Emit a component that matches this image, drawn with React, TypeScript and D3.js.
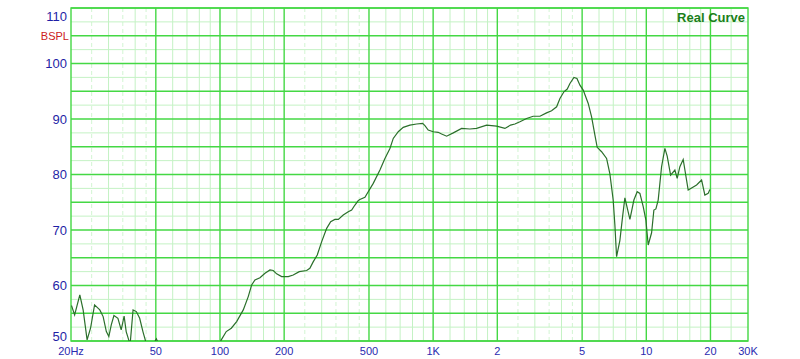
import React from 'react';
import * as d3 from 'd3';

const freqs = [
  20.1, 20.8, 22.0, 22.8, 23.8, 24.7, 25.8, 27.3, 28.3, 29.3, 30.1, 30.9, 31.8, 33.2, 34.4, 35.5, 36.3, 37.3, 37.9,
  39.1, 40.5, 42.0, 43.5, 44.6, 46.0, 48.5, 50.3, 51.7, 54, 70, 90, 98,
  101.4, 107, 113, 119.7, 128.6, 135.7, 140.8, 145.9, 154, 162.6, 171.6, 177.8, 184.4, 194.6, 209, 220.6, 235.4, 255, 264,
  274, 286, 300, 316.6, 330.6, 346, 359, 378.6, 399.7, 414.6, 429.7, 445, 453, 478.6, 496, 523.6, 562.8, 594, 627, 650,
  686, 724, 778, 836.6, 892.6, 915, 948, 1001, 1056, 1096, 1157, 1243, 1360, 1487, 1599, 1782, 1985, 2171, 2308, 2418,
  2553, 2744, 2946, 3169, 3406, 3595, 3796, 3934, 4108, 4257, 4383, 4577, 4728, 4883, 5058, 5340, 5538, 5740, 5884,
  6170, 6512, 6748, 6993, 7122, 7254, 7516, 7740, 7935, 8377, 8746, 9064, 9333, 9672, 9956, 10207, 10588, 10854, 11092,
  11370, 11794, 12224, 12532, 13002, 13616, 13960, 14374, 14896, 15722, 17216, 18172, 18828, 19510, 19872,
];
const spl = [
  56.4, 54.7, 58.3, 55.6, 50.2, 52.3, 56.5, 55.6, 54.4, 51.7, 50.8, 52.9, 54.6, 54.1, 52.0, 54.5, 51.7, 50.2, 49.5,
  55.6, 55.3, 54.1, 51.7, 50.2, 47.5, 49.3, 50.4, 49.3, 47, 45, 46.5, 49,
  50.2, 51.7, 52.3, 53.5, 55.6, 58.0, 60.1, 61.0, 61.4, 62.2, 62.8, 62.7, 62.1, 61.6, 61.6, 61.9, 62.5, 62.7, 63.1,
  64.3, 65.5, 67.9, 70.3, 71.5, 71.9, 71.9, 72.7, 73.3, 73.6, 74.5, 75.3, 75.5, 75.9, 76.9, 78.4, 80.8, 82.9, 84.7, 86.5,
  87.7, 88.5, 88.9, 89.1, 89.2, 88.8, 88.0, 87.7, 87.6, 87.3, 86.9, 87.5, 88.3, 88.2, 88.3, 88.9, 88.7, 88.3, 88.9, 89.1,
  89.5, 90.1, 90.5, 90.5, 91.1, 91.5, 92.2, 93.7, 94.9, 95.4, 96.4, 97.5, 97.3, 96.1, 95.2, 92.8, 90.4, 87.1, 84.9,
  84.1, 82.9, 80.1, 75.4, 70.9, 65.2, 68.1, 72.4, 75.8, 71.9, 75.4, 76.9, 76.6, 74.2, 71.8, 67.3, 69.5, 73.6, 73.8,
  75.4, 81.4, 84.7, 83.3, 79.9, 80.8, 79.3, 81.4, 82.7, 77.2, 78.1, 79.0, 76.3, 76.6, 77.3,
];

const yLabelValues = [110, 100, 90, 80, 70, 60, 50];
const xTickValues = [20, 50, 100, 200, 500, 1000, 2000, 5000, 10000, 20000, 30000];
const xTickLabels = ['20Hz', '50', '100', '200', '500', '1K', '2', '5', '10', '20', '30K'];
const majorFreqs = [50, 100, 200, 500, 1000, 2000, 5000, 10000, 20000];
const minorFreqs = [30, 40, 60, 70, 80, 90, 120, 140, 160, 180, 300, 400, 600, 700, 800, 900, 1200, 1400, 1600, 1800,
  3000, 4000, 6000, 7000, 8000, 9000, 12000, 14000, 16000, 18000, 25000];
const dashedFreqs = [25, 35, 45, 250, 350, 450, 2500, 3500, 4500];
const dbLines = d3.range(50, 110.01, 2.5);

const W = 800, H = 359;
const L = 71, R = 748, T = 8, B = 341;

export default function App() {
  const x = d3.scaleLog().domain([20, 30000]).range([L, R]);
  const y = d3.scaleLinear().domain([50, 110]).range([B, T]);
  const pts: [number, number][] = freqs.map((f, i) => [f, spl[i]]);
  const line = d3.line<[number, number]>().x(d => x(d[0])).y(d => y(d[1]));

  const bright = '#44d844';
  const light = '#c4f2c4';
  const dashed = '#d2f5d2';

  return (
    <div style={{ position: 'fixed', left: 0, top: 0 }}>
      <svg width={W} height={H} style={{ display: 'block', background: '#fff' }} fontFamily="'Liberation Sans', Arial, sans-serif">
        <defs>
          <clipPath id="plot">
            <rect x={L} y={T} width={R - L} height={B - T} />
          </clipPath>
        </defs>
        {dashedFreqs.map(f => (
          <line key={'d' + f} x1={x(f)} x2={x(f)} y1={T} y2={B} stroke={dashed} strokeWidth={1} strokeDasharray="4,3" />
        ))}
        {minorFreqs.map(f => (
          <line key={'m' + f} x1={x(f)} x2={x(f)} y1={T} y2={B} stroke={light} strokeWidth={1} />
        ))}
        {dbLines.filter(v => v % 5 !== 0).map(v => (
          <line key={'hl' + v} x1={L} x2={R} y1={y(v)} y2={y(v)} stroke={light} strokeWidth={1} />
        ))}
        {dbLines.filter(v => v % 5 === 0).map(v => (
          <line key={'hb' + v} x1={L} x2={R} y1={y(v)} y2={y(v)} stroke={bright} strokeWidth={1.4} />
        ))}
        {majorFreqs.map(f => (
          <line key={'M' + f} x1={x(f)} x2={x(f)} y1={T} y2={B} stroke={bright} strokeWidth={1.4} />
        ))}
        <rect x={L} y={T} width={R - L} height={B - T} fill="none" stroke={bright} strokeWidth={1.4} />
        <path d={line(pts) || ''} fill="none" stroke="#2b6f2b" strokeWidth={1.2} clipPath="url(#plot)" />
        {yLabelValues.map(v => {
          let yy = y(v) + 4.7;
          if (v === 110) yy = 21;
          if (v === 50) yy = 341;
          return (
            <text key={'yl' + v} x={67} y={yy} textAnchor="end" fontSize={13} fill="#1f1fa6">{v}</text>
          );
        })}
        <text x={69} y={y(105) + 4} textAnchor="end" fontSize={11} fill="#cc2020">BSPL</text>
        {xTickValues.map((f, i) => (
          <text key={'xl' + f} x={x(f)} y={354.5} textAnchor="middle" fontSize={11} fill="#2a2ab0">{xTickLabels[i]}</text>
        ))}
        <text x={745} y={22} textAnchor="end" fontSize={13} fontWeight="bold" fill="#1a7f1a">Real Curve</text>
      </svg>
    </div>
  );
}
